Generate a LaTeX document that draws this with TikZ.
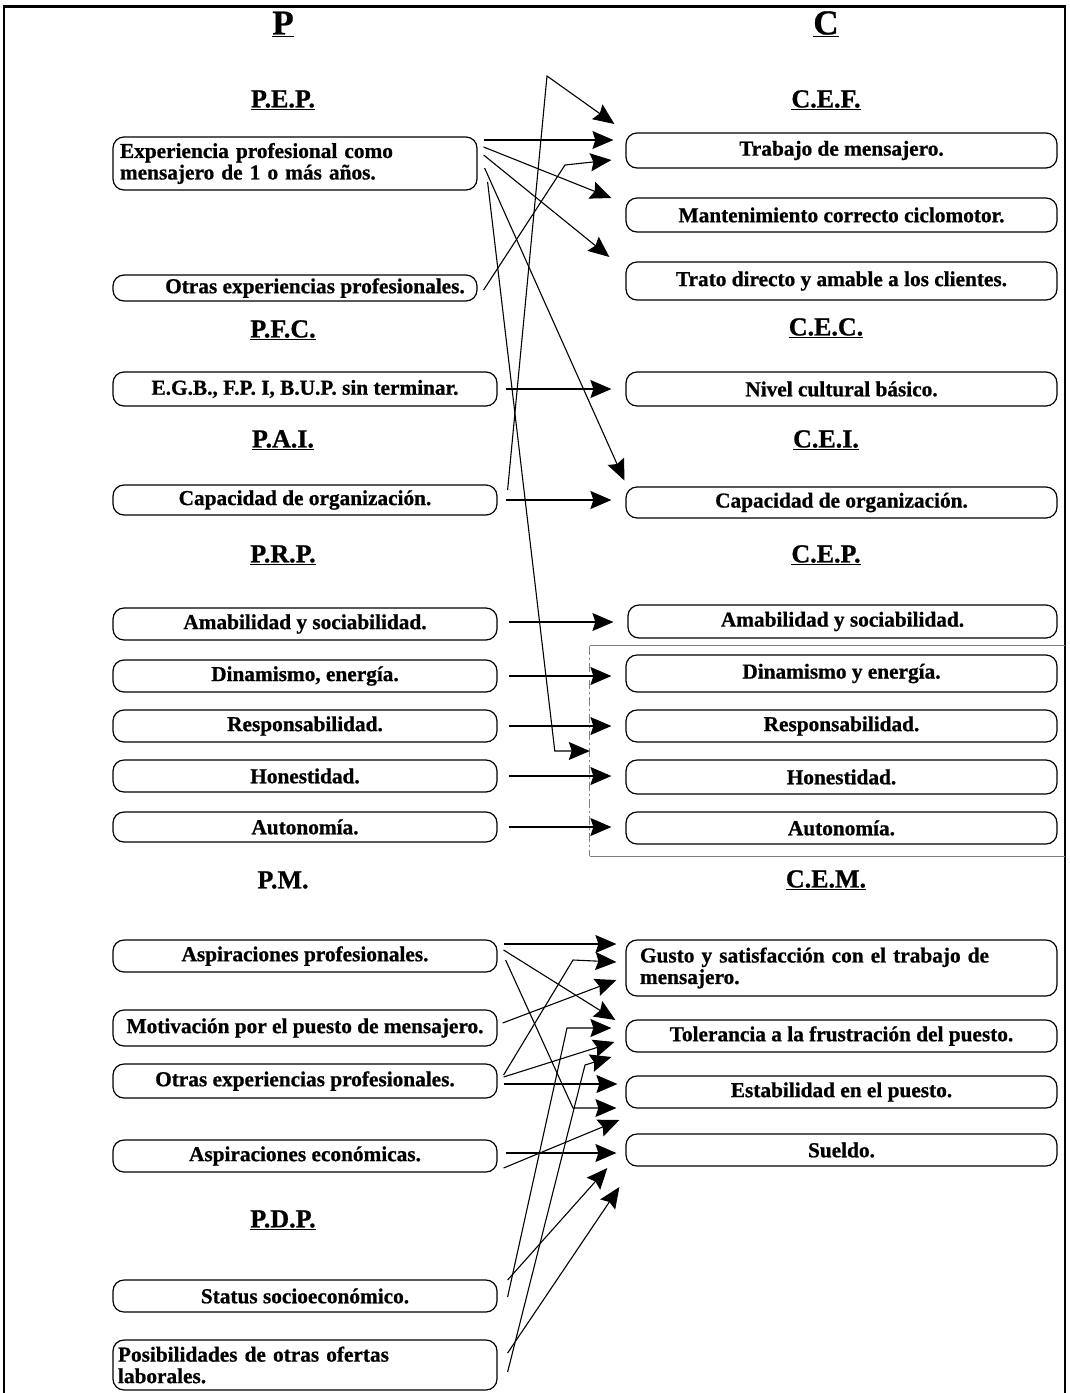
\documentclass[tikz,border=0pt]{standalone}
\usepackage{fontspec}
\setmainfont{Liberation Serif}[BoldFeatures={FakeBold=0.8}]
\usetikzlibrary{arrows.meta,calc}

\begin{document}
\begin{tikzpicture}[x=1pt,y=-1pt,
  box/.style={draw, rounded corners=11pt, line width=1.2pt, inner sep=0pt,
    font=\bfseries\fontsize{21.3}{21.5}\selectfont},
  lbox/.style={box, minimum width=384pt, minimum height=32pt},
  rbox/.style={box, minimum width=431pt, minimum height=32pt},
  head/.style={inner sep=0pt, font=\bfseries\fontsize{26}{28}\selectfont},
  maintitle/.style={inner sep=0pt, font=\bfseries\fontsize{35}{37}\selectfont},
  conn/.style={line width=1.1pt, -{Stealth[length=21pt,width=18pt,inset=3pt]}},
  grpline/.style={draw=gray, line width=0.7pt},
]
\useasboundingbox (0,0) rectangle (1070,1393);

% outer frame (open at the bottom)
\draw[line width=3pt] (3,6) -- (1066,6);
\draw[line width=2.2pt] (4,1393) -- (4,6);
\draw[line width=2.2pt] (1065,1393) -- (1065,6);

% column titles
\node[maintitle] (tP) at (283,24) {\underline{P}};
\node[maintitle] (tC) at (826,24) {\underline{C}};

% section headings, left column
\node[head] (hPEP) at (283,100)  {\underline{P.E.P.}};
\node[head] (hPFC) at (283,330)  {\underline{P.F.C.}};
\node[head] (hPAI) at (283,440)  {\underline{P.A.I.}};
\node[head] (hPRP) at (283,555)  {\underline{P.R.P.}};
\node[head] (hPM)  at (283,880)  {P.M.};
\node[head] (hPDP) at (283,1220) {\underline{P.D.P.}};

% section headings, right column
\node[head] (hCEF) at (826,100) {\underline{C.E.F.}};
\node[head] (hCEC) at (826,328) {\underline{C.E.C.}};
\node[head] (hCEI) at (826,440) {\underline{C.E.I.}};
\node[head] (hCEP) at (826,555) {\underline{C.E.P.}};
\node[head] (hCEM) at (826,880) {\underline{C.E.M.}};

% left column boxes
\node[box, minimum width=364pt, minimum height=53pt, text width=350pt, align=left]
  (L1) at (295,163.5) {Experiencia profesional como\\mensajero de 1 o más años.};
\node[box, minimum width=364pt, minimum height=26pt] (L2) at (295,288)
  {\hspace*{40pt}Otras experiencias profesionales.};
\node[lbox, minimum height=34pt] (L3) at (305,389) {E.G.B., F.P. I, B.U.P. sin terminar.};
\node[lbox, minimum height=30pt] (L4) at (305,500) {Capacidad de organización.};
\node[lbox] (L5) at (305,624) {Amabilidad y sociabilidad.};
\node[lbox] (L6) at (305,676) {Dinamismo, energía.};
\node[lbox] (L7) at (305,726) {Responsabilidad.};
\node[lbox] (L8) at (305,776) {Honestidad.};
\node[lbox, minimum height=30pt] (L9) at (305,827) {Autonomía.};
\node[lbox] (L10) at (305,956) {Aspiraciones profesionales.};
\node[lbox, minimum height=36pt] (L11) at (305,1028) {Motivación por el puesto de mensajero.};
\node[lbox, minimum height=34pt] (L12) at (305,1081) {Otras experiencias profesionales.};
\node[lbox] (L13) at (305,1156) {Aspiraciones económicas.};
\node[lbox] (L14) at (305,1296) {Status socioeconómico.};
\node[lbox, minimum height=50pt, text width=374pt, align=left]
  (L15) at (305,1365) {Posibilidades de otras ofertas\\laborales.};

% right column boxes
\node[rbox, minimum height=35pt] (R1) at (841.5,150.5) {Trabajo de mensajero.};
\node[rbox, minimum height=34pt] (R2) at (841.5,215) {Mantenimiento correcto ciclomotor.};
\node[rbox, minimum height=38pt] (R3) at (841.5,281) {Trato directo y amable a los clientes.};
\node[rbox, minimum height=34pt] (R4) at (841.5,389) {Nivel cultural básico.};
\node[rbox, minimum height=31pt] (R5) at (841.5,502.5) {Capacidad de organización.};
\node[rbox, minimum width=429pt, minimum height=33pt] (R6) at (842.5,621.5) {Amabilidad y sociabilidad.};
\node[rbox, minimum height=37pt] (R7) at (841.5,673.5) {Dinamismo y energía.};
\node[rbox] (R8) at (841.5,726) {Responsabilidad.};
\node[rbox, minimum height=34pt] (R9) at (841.5,777) {Honestidad.};
\node[rbox] (R10) at (841.5,828) {Autonomía.};
\node[rbox, minimum height=56pt, text width=403pt, align=left]
  (R11) at (841.5,968) {Gusto y satisfacción con el trabajo de\\mensajero.};
\node[rbox] (R12) at (841.5,1036) {Tolerancia a la frustración del puesto.};
\node[rbox] (R13) at (841.5,1092) {Estabilidad en el puesto.};
\node[rbox] (R14) at (841.5,1150) {Sueldo.};

% thin frame grouping the personal traits
\node[minimum width=475pt, minimum height=210pt, inner sep=0pt] (grp) at (827.5,751) {};
\draw[grpline] (grp.north east) -- (grp.north west);
\draw[grpline, dash pattern=on 9pt off 3pt on 2pt off 3pt] (grp.north west) -- (grp.south west);
\draw[grpline] (grp.south west) -- (grp.south east);

% free turning points of the bent connectors
\coordinate (peak) at (547,76);
\coordinate (bOtras) at (565,165);
\coordinate (bAsp) at (573,1108);
\coordinate (bOtras2) at (573,960);
\coordinate (bStatus) at (567,1028);
\coordinate (bPosib) at (585,1065);

% P.E.P. / P.A.I. -> C.E.F. and others
\draw[conn] ([shift={(6,-23.5)}]L1.east) -- ([shift={(-12,-10.5)}]R1.west);
\draw[conn] ([shift={(6,-16.5)}]L1.east) -- ([shift={(-14,-17)}]R2.west);
\draw[conn] ([shift={(6,-8.5)}]L1.east) -- ([shift={(-16,-24)}]R3.west);
\draw[conn] ([shift={(7,4.5)}]L1.east) -- ([shift={(-1,-22)}]R5.west);
\draw[conn] ([shift={(10,18.5)}]L1.east) -- ([xshift=-35pt]grp.west) -- (grp.west);
\draw[conn] ([shift={(6,2)}]L2.east) -- (bOtras) -- ([shift={(-14,9.5)}]R1.west);
\draw[conn] ([shift={(10,-10)}]L4.east) -- (peak) -- ([shift={(-11,-26.5)}]R1.west);

% one-to-one links
\draw[conn] ([xshift=8pt]L3.east) -- ($(L3.east -| R4.west)+(-14,0)$);
\draw[conn] ([xshift=8pt]L4.east) -- ($(L4.east -| R5.west)+(-14,0)$);
\draw[conn] ([shift={(11,-2)}]L5.east) -- ($(L5.east -| R6.west)+(-14,-2)$);
\draw[conn] ([xshift=11pt]L6.east) -- ($(L6.east -| R7.west)+(-14,0)$);
\draw[conn] ([xshift=11pt]L7.east) -- ($(L7.east -| R8.west)+(-14,0)$);
\draw[conn] ([xshift=11pt]L8.east) -- ($(L8.east -| R9.west)+(-14,0)$);
\draw[conn] ([xshift=11pt]L9.east) -- ($(L9.east -| R10.west)+(-14,0)$);

% P.M. / P.D.P. -> C.E.M.
\draw[conn] ([shift={(6,-12)}]L10.east) -- ([shift={(-9,-24)}]R11.west);
\draw[conn] ([shift={(6,-6)}]L10.east) -- ([shift={(-10,-16)}]R12.west);
\draw[conn] ([shift={(8,4)}]L10.east) -- (bAsp) -- ([shift={(-9,16)}]R13.west);
\draw[conn] ([shift={(5,-5)}]L11.east) -- ([shift={(-9,12)}]R11.west);
\draw[conn] ([shift={(6,-6)}]L12.east) -- (bOtras2) -- ([shift={(-9,-6)}]R11.west);
\draw[conn] ([shift={(6,-4)}]L12.east) -- ([shift={(-11,6)}]R12.west);
\draw[conn] ([shift={(6,3)}]L12.east) -- ([shift={(-8,-8)}]R13.west);
\draw[conn] ([shift={(8,-3)}]L13.east) -- ([shift={(-9,3)}]R14.west);
\draw[conn] ([shift={(6,12)}]L13.east) -- ([shift={(-6,-30)}]R14.west);
\draw[conn] ([shift={(10,1)}]L14.east) -- (bStatus) -- ([shift={(-14,-8)}]R12.west);
\draw[conn] ([shift={(10,-16)}]L14.east) -- ([shift={(-18,18)}]R14.west);
\draw[conn] ([shift={(10,7)}]L15.east) -- (bPosib) -- ([shift={(-14,21)}]R12.west);
\draw[conn] ([shift={(10,-12)}]L15.east) -- ([shift={(-6,37)}]R14.west);
\end{tikzpicture}
\end{document}
